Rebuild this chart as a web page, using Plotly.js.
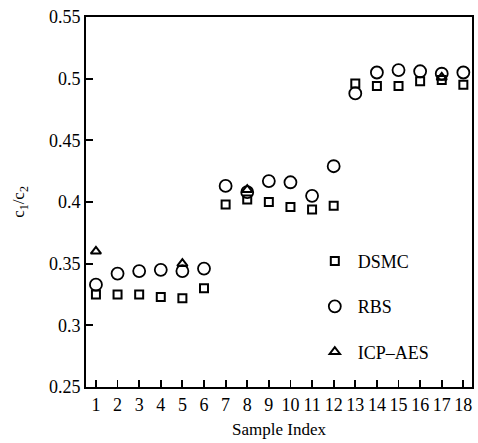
<!DOCTYPE html>
<html>
<head>
<meta charset="utf-8">
<script src="https://cdn.plot.ly/plotly-3.0.1.min.js"></script>
<style>html,body{margin:0;padding:0;background:#fff;}#chart{width:478px;height:443px;}</style>
</head>
<body>
<div id="chart"></div>
<script>
const sampleIndex = [1,2,3,4,5,6,7,8,9,10,11,12,13,14,15,16,17,18];
const dsmc = [0.325,0.325,0.325,0.323,0.322,0.330,0.398,0.402,0.400,0.396,0.394,0.397,0.496,0.494,0.494,0.498,0.499,0.495];
const rbs  = [0.333,0.342,0.344,0.345,0.344,0.346,0.413,0.408,0.417,0.416,0.405,0.429,0.488,0.505,0.507,0.506,0.504,0.505];
const icpIndex = [1,5,8,17];
const icp = [0.360,0.350,0.410,0.501];
const yTicks = [0.25,0.3,0.35,0.4,0.45,0.5,0.55];
const yTickText = ['0.25','0.3','0.35','0.4','0.45','0.5','0.55'];

const font = {family:'Liberation Serif, Times New Roman, serif', color:'#000'};

const traces = [
  {x: sampleIndex, y: dsmc, name:'DSMC', mode:'markers', type:'scatter', legendgroup:'a',
   marker:{symbol:'square-open', size:8, color:'#000', line:{width:2, color:'#000'}}},
  {x: sampleIndex, y: rbs, name:'RBS', mode:'markers', type:'scatter', legendgroup:'b',
   marker:{symbol:'circle-open', size:12, color:'#000', line:{width:1.8, color:'#000'}}},
  {x: icpIndex, y: icp, name:'ICP\u2013AES', mode:'markers', type:'scatter', legendgroup:'c',
   marker:{symbol:'triangle-up-open', size:9, color:'#000', line:{width:2, color:'#000'}}}
];

const layout = {
  width:478, height:443,
  margin:{l:86, r:6, t:17, b:56, pad:0},
  paper_bgcolor:'#fff', plot_bgcolor:'#fff',
  font: Object.assign({size:18}, font),
  showlegend:true,
  legend:{x:0.585, y:0.39, xanchor:'left', yanchor:'top', bgcolor:'rgba(0,0,0,0)',
          font:Object.assign({size:18}, font), tracegroupgap:19, itemwidth:36},
  xaxis:{range:[0.54,18.4], tickmode:'array', tickvals:sampleIndex, ticktext:sampleIndex.map(String),
         ticks:'inside', ticklen:7, tickwidth:1.8, tickcolor:'#000',
         showline:true, linecolor:'#000', linewidth:2, mirror:true, showgrid:false, zeroline:false,
         tickfont:Object.assign({size:18}, font),
         title:{text:'Sample Index', font:Object.assign({size:17}, font), standoff:10}},
  yaxis:{range:[0.25,0.55], tickmode:'array', tickvals:yTicks, ticktext:yTickText,
         ticks:'inside', ticklen:7, tickwidth:1.8, tickcolor:'#000',
         showline:true, linecolor:'#000', linewidth:2, mirror:true, showgrid:false, zeroline:false,
         tickfont:Object.assign({size:18}, font),
         title:{text:'c<sub>1</sub>/c<sub>2</sub>', font:Object.assign({size:17}, font), standoff:20}}
};

Plotly.newPlot('chart', traces, layout, {displayModeBar:false, staticPlot:true});
</script>
</body>
</html>
